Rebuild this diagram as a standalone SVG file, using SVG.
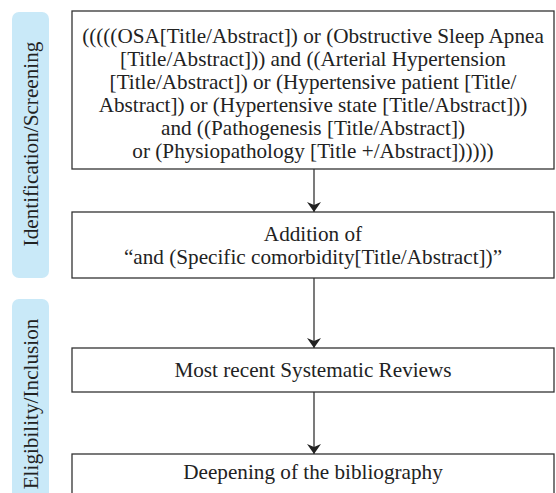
<svg xmlns="http://www.w3.org/2000/svg" width="556" height="493" viewBox="0 0 556 493">
<style>
.box{fill:#fff;stroke:#333;stroke-width:1.3}
.band{fill:#c9e9f8}
.c{stroke:#333;stroke-width:1.3;fill:none;marker-end:url(#ah)}
</style>
<defs>
<marker id="ah" viewBox="0 0 10 14" refX="10" refY="7" markerWidth="10" markerHeight="14" markerUnits="userSpaceOnUse" orient="auto">
<path d="M0,0 L10,7 L0,14 L3,7 Z" fill="#222"/>
</marker>
</defs>
<rect x="0" y="0" width="556" height="493" fill="#fff"/>
<g id="band1"><rect class="band" x="12" y="12" width="37" height="266" rx="7"/><text font-family="Liberation Serif" font-size="21.2" fill="#222" text-anchor="middle" transform="translate(38,144) rotate(-90)">Identification/Screening</text></g>
<g id="band2"><rect class="band" x="12" y="299" width="37" height="210" rx="7"/><text font-family="Liberation Serif" font-size="21.2" fill="#222" text-anchor="middle" transform="translate(38,404) rotate(-90)">Eligibility/Inclusion</text></g>
<g id="n1"><rect class="box" x="72" y="11" width="482" height="158"/>
<text font-family="Liberation Serif" font-size="21.2" fill="#222" text-anchor="middle" x="313" y="43">(((((OSA[Title/Abstract]) or (Obstructive Sleep Apnea</text>
<text font-family="Liberation Serif" font-size="21.2" fill="#222" text-anchor="middle" x="313" y="66">[Title/Abstract])) and ((Arterial Hypertension</text>
<text font-family="Liberation Serif" font-size="21.2" fill="#222" text-anchor="middle" x="313" y="89">[Title/Abstract]) or (Hypertensive patient [Title/</text>
<text font-family="Liberation Serif" font-size="21.2" fill="#222" text-anchor="middle" x="313" y="112">Abstract]) or (Hypertensive state [Title/Abstract]))</text>
<text font-family="Liberation Serif" font-size="21.2" fill="#222" text-anchor="middle" x="313" y="135">and ((Pathogenesis [Title/Abstract])</text>
<text font-family="Liberation Serif" font-size="21.2" fill="#222" text-anchor="middle" x="313" y="158">or (Physiopathology [Title +/Abstract])))))</text>
</g>
<g id="n2"><rect class="box" x="72" y="212" width="482" height="66"/>
<text font-family="Liberation Serif" font-size="21.2" fill="#222" text-anchor="middle" x="313" y="241">Addition of</text>
<text font-family="Liberation Serif" font-size="21.2" fill="#222" text-anchor="middle" x="313" y="264">“and (Specific comorbidity[Title/Abstract])”</text>
</g>
<g id="n3"><rect class="box" x="72" y="348" width="482" height="44"/>
<text font-family="Liberation Serif" font-size="21.2" fill="#222" text-anchor="middle" x="313" y="377">Most recent Systematic Reviews</text>
</g>
<g id="n4"><rect class="box" x="72" y="454" width="482" height="60"/>
<text font-family="Liberation Serif" font-size="21.2" fill="#222" text-anchor="middle" x="313" y="479">Deepening of the bibliography</text>
</g>
<g id="connectors">
<line class="c" x1="314" y1="169" x2="314" y2="212"/>
<line class="c" x1="314" y1="278" x2="314" y2="348"/>
<line class="c" x1="314" y1="392" x2="314" y2="454"/>
</g>
</svg>
